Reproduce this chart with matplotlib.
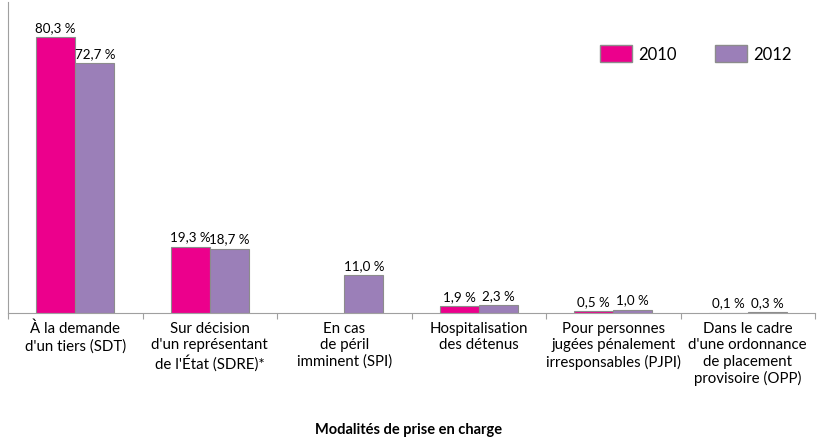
import numpy as np
import matplotlib
matplotlib.use('Agg')
from matplotlib import pyplot as plt
from matplotlib.patches import Patch

categories = ["À la demande\nd'un tiers (SDT)",
              "Sur décision\nd'un représentant\nde l'État (SDRE)*",
              "En cas\nde péril\nimminent (SPI)",
              "Hospitalisation\ndes détenus",
              "Pour personnes\njugées pénalement\nirresponsables (PJPI)",
              "Dans le cadre\nd'une ordonnance\nde placement\nprovisoire (OPP)"]
v2010 = [80.3, 19.3, None, 1.9, 0.5, 0.1]
v2012 = [72.7, 18.7, 11.0, 2.3, 1.0, 0.3]
years = ['2010', '2012']

plt.rcParams['font.family'] = ['Lato', 'DejaVu Sans']

pink = '#EC008C'
purple = '#9B7FB8'
edge = '#8C8C8C'

fig = plt.figure(figsize=(8.17, 4.39), dpi=100)
ax = fig.add_axes([8 / 817, 125 / 439, 807 / 817, 311 / 439])

x = np.arange(len(categories))
w = 0.29
for i in range(len(categories)):
    if v2010[i] is not None:
        ax.bar(x[i] - w / 2, v2010[i], w, color=pink, edgecolor=edge, linewidth=0.8)
        ax.text(x[i] - w / 2, v2010[i] + 1.2, ('%.1f %%' % v2010[i]).replace('.', ','),
                ha='center', va='bottom', fontsize=9.6)
    ax.bar(x[i] + w / 2, v2012[i], w, color=purple, edgecolor=edge, linewidth=0.8)
    ax.text(x[i] + w / 2, v2012[i] + 1.2, ('%.1f %%' % v2012[i]).replace('.', ','),
            ha='center', va='bottom', fontsize=9.6)

ax.set_xlim(-0.5, len(categories) - 0.5)
ax.set_ylim(0, 90.5)
ax.set_yticks([])
ax.set_xticks(np.arange(len(categories) + 1) - 0.5)
ax.set_xticklabels([])
ax.tick_params(axis='x', length=4, color='#A0A0A0', direction='out')
for i, c in enumerate(categories):
    ax.text(x[i], -2.3, c, ha='center', va='top', fontsize=10.8, linespacing=1.22)

for s in ['top', 'right']:
    ax.spines[s].set_visible(False)
ax.spines['left'].set_color('#A0A0A0')
ax.spines['bottom'].set_color('#A0A0A0')

fig.text(0.5, 2 / 439, 'Modalités de prise en charge', ha='center', va='bottom',
         fontsize=10.5, fontweight='bold')

handles = [Patch(facecolor=pink, edgecolor=edge), Patch(facecolor=purple, edgecolor=edge)]
ax.legend(handles, years, loc='upper right', bbox_to_anchor=(0.99, 0.91), ncol=2,
          frameon=False, fontsize=12, handlelength=1.9, handleheight=1.15,
          columnspacing=2.3, handletextpad=0.4)

fig.savefig('out.png', dpi=100)
